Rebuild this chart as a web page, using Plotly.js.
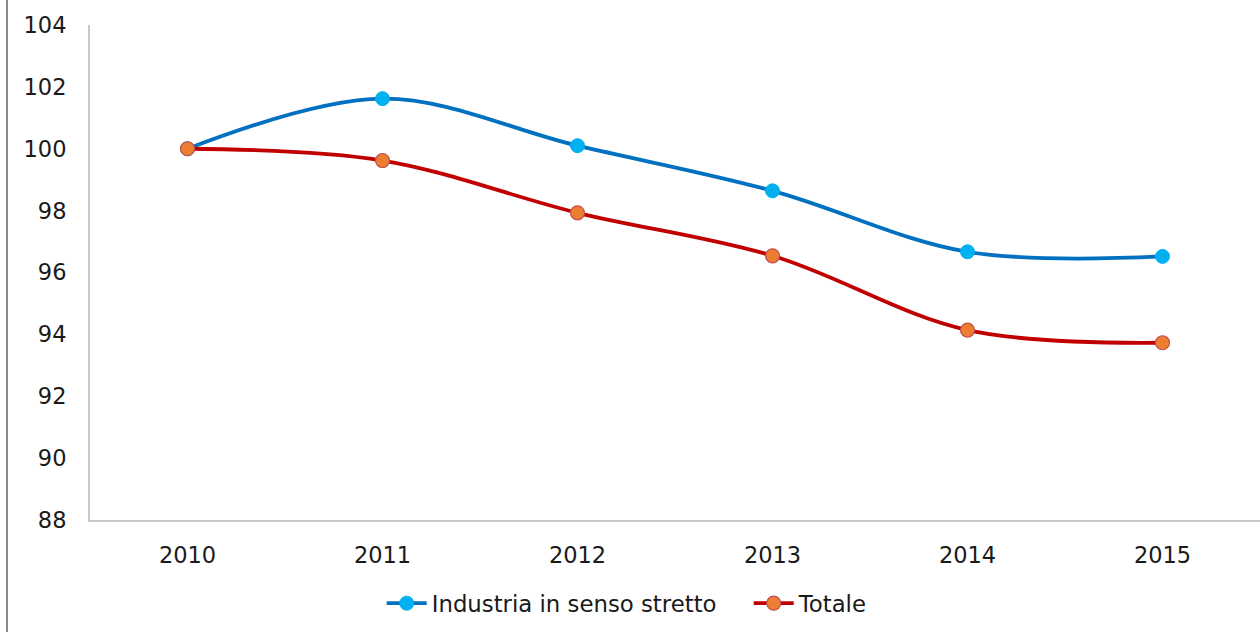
<!DOCTYPE html>
<html>
<head>
<meta charset="utf-8">
<script src="https://cdn.plot.ly/plotly-3.0.1.min.js"></script>
<style>
html,body{margin:0;padding:0;background:#fff;}
#chart{width:1260px;height:632px;}
</style>
</head>
<body>
<div id="chart"></div>
<script>
const years = ['2010','2011','2012','2013','2014','2015'];
const industria = [100, 101.62, 100.1, 98.64, 96.67, 96.52];
const totale = [100, 99.62, 97.93, 96.54, 94.14, 93.73];
const yTicks = [88, 90, 92, 94, 96, 98, 100, 102, 104];

const traces = [
  {
    x: years, y: industria, name: 'Industria in senso stretto',
    type: 'scatter', mode: 'lines+markers',
    line: {color: '#0070C0', width: 3.8, shape: 'spline', smoothing: 1},
    marker: {color: '#00B0F0', size: 14, line: {color: '#00B0F0', width: 1}}
  },
  {
    x: years, y: totale, name: 'Totale',
    type: 'scatter', mode: 'lines+markers',
    line: {color: '#C00000', width: 3.8, shape: 'spline', smoothing: 1},
    marker: {color: '#ED7D31', size: 14, line: {color: '#C0504D', width: 1.2}}
  }
];

const layout = {
  width: 1260, height: 632,
  margin: {l: 90, r: 0, t: 25, b: 112},
  paper_bgcolor: '#fff', plot_bgcolor: '#fff',
  font: {family: 'DejaVu Sans, Verdana, sans-serif', size: 22.5, color: '#1a1a1a'},
  showlegend: true,
  legend: {orientation: 'h', x: 0.563, xanchor: 'center', y: -0.125, yanchor: 'top',
           font: {size: 22.8, color: '#1a1a1a'}, itemwidth: 40, tracegroupgap: 0,
           entrywidth: 312, entrywidthmode: 'pixels'},
  xaxis: {
    type: 'category', range: [-0.5, 5.5],
    showgrid: false, zeroline: false,
    showline: true, linecolor: '#c8c8c8', linewidth: 2,
    ticks: '', ticklabelstandoff: 14, tickfont: {size: 22.5}
  },
  yaxis: {
    range: [88, 104], tickvals: yTicks, ticktext: yTicks.map(String),
    showgrid: false, zeroline: false,
    showline: true, linecolor: '#c8c8c8', linewidth: 2,
    ticks: '', ticklabelstandoff: 17, tickfont: {size: 22.5}
  },
  shapes: [
    {type: 'line', xref: 'paper', yref: 'paper',
     x0: (7 - 90) / 1170, x1: (7 - 90) / 1170, y0: -112 / 495, y1: 25 / 495 + 1,
     line: {color: '#8a8a8a', width: 2}}
  ]
};

Plotly.newPlot('chart', traces, layout, {displayModeBar: false, staticPlot: true});
</script>
</body>
</html>
